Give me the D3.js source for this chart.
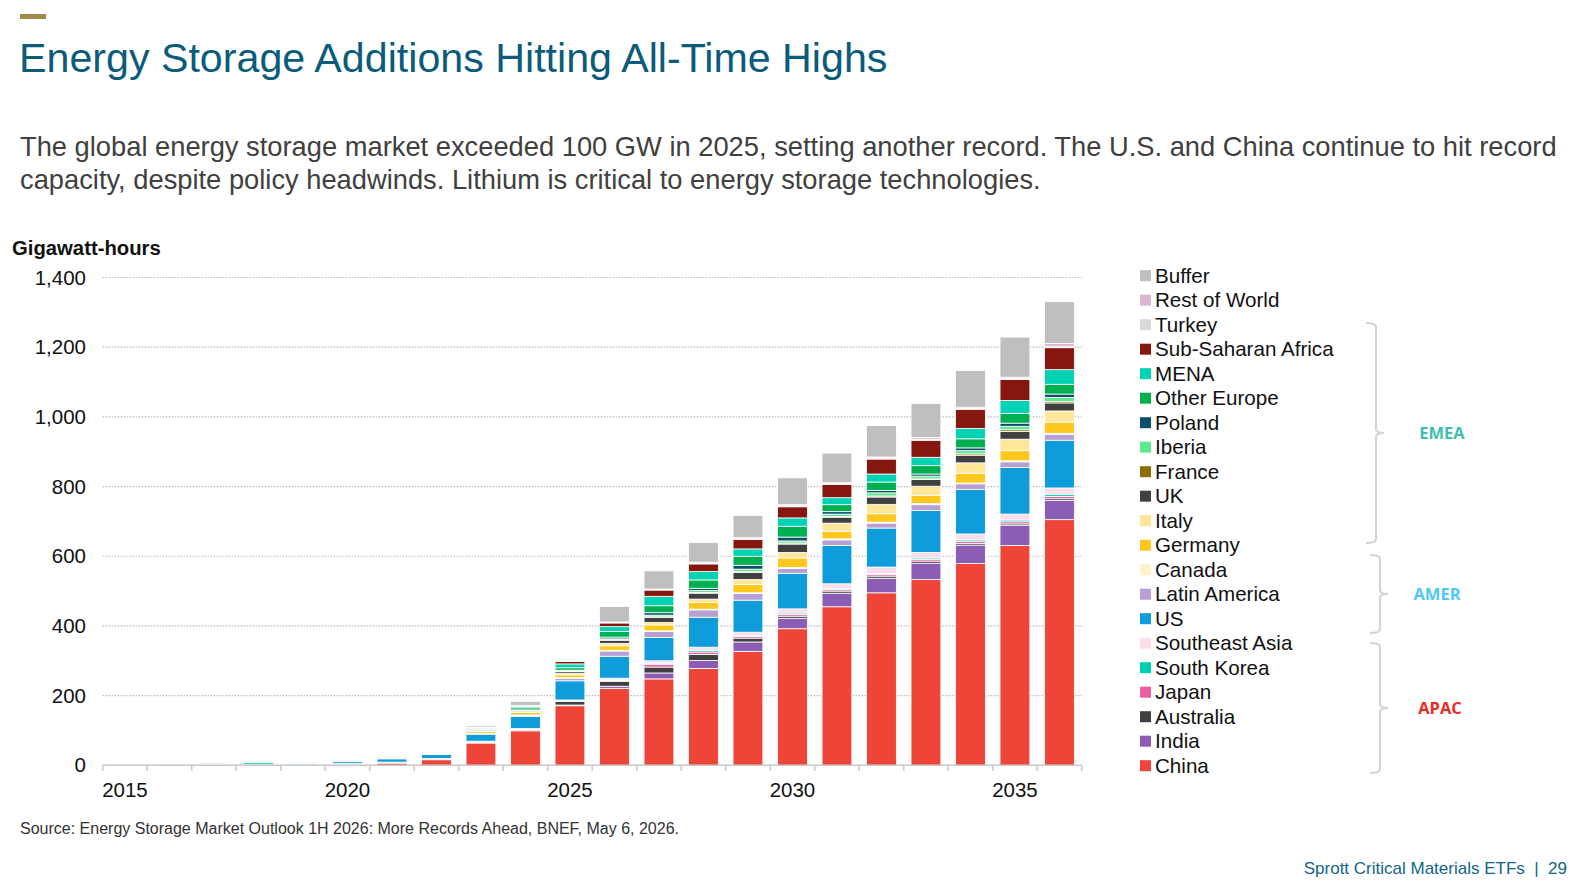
<!DOCTYPE html>
<html>
<head>
<meta charset="utf-8">
<script src="https://cdn.jsdelivr.net/npm/d3@7"></script>
<style>
  body { margin: 0; background: #fff; }
  svg { display: block; font-family: "Liberation Sans", Arial, sans-serif; }
</style>
</head>
<body>
<svg id="chart" width="1596" height="894"></svg>
<script>
// years on the x axis
const years = d3.range(2015, 2037)
const yearLabels = [2015, 2020, 2025, 2030, 2035]
const yTicks = [0, 200, 400, 600, 800, 1000, 1200, 1400]

// GWh per year, 2015 -> 2036
const china        = [0.3,0.4,0.5,1,1.2,2.5,6.5,16,64,99,171,221,248,278,327,392,455,495,533,579,631,705]
const india        = [0,0,0,0,0,0,0.3,0.5,0.8,1,2,6,17,23,27,30,39,42,47,53,58,55]
const australia    = [0,0.3,0.5,0.5,0.8,1,1,1.5,1.5,3,10,14,17,17,11,6,6,6,6,5,4,5]
const japan        = [0.8,0.5,0.3,0.5,0.4,0.5,0.5,0.7,1.5,1,2,2,8,7,5,5,4,5,5,6,6,7]
const southKorea   = [0.3,0.8,1,5.5,0.8,0.8,0.8,0.8,0.7,0.5,0.5,2,3,5,3,4,3,3,4,4,5,6]
const southeastAsia= [0,0,0,0,0,0,0,0.3,0.8,1,2,5,7,9,9,12,14,18,16,17,17,18]
const us           = [0.6,0.7,0.8,1.2,1.8,5.5,9.5,11.5,20,35,55,63,67,86,92,102,110,112,120,128,134,137]
const latinAmerica = [0,0,0,0,0,0,0.5,0.6,2,3,7,15,17,21,19,14,16,14,17,16,16,17]
const canada       = [0,0,0,0,0,0,0,0.2,0.8,1,2,2,2,2,2,3,3,3,3,2,3,3]
const germany      = [0.3,0.5,0.6,0.8,0.8,1,1.8,2.5,5,7,8,13,17,20,24,27,22,24,24,28,29,32]
const italy        = [0,0,0,0,0,0,0.4,1,3,3,4,7,7,9,14,16,23,27,26,30,33,32]
const uk           = [0.2,0.5,0.4,0.5,0.6,1,1.5,1.3,2.5,2.5,5,9,14,17,20,24,17,21,19,22,22,23]
const france       = [0,0,0,0,0,0,0,0,0.5,0.5,1,1,2,2,3,3,2,3,2,4,5,4]
const iberia       = [0,0,0,0,0,0,0,0.2,0.5,1,1.5,3,5,6,7,6,7,9,8,9,10,12]
const poland       = [0,0,0,0,0,0,0,0.1,0.4,0.5,2,5,7,6,11,11,7,7,6,8,9,9.5]
const otherEurope  = [0,0,0,0,0.3,0.5,0.8,1,2.5,6,7,16,20,24,26,31,20,24,24,26,28,28]
const mena         = [0,0,0,0,0.3,0,0.3,0.3,1.5,4,11,14,27,24,21,24,20,23,24,30,37,42]
const subSaharan   = [0,0,0,0,0,0,0,0.2,0.8,1.5,7,10.5,18,22,27,32,38,43,49,55,60,63]
const turkey       = [0,0,0,0,0,0,0,0,0.3,0.5,0.5,1,1,2,2,3,2,3,3,2,3,4]
const restOfWorld  = [1,0.4,0,0,0,0,0,0,0.3,0.5,0.5,2,2,3,3,3,3,3,5,4,4,8]
const buffer       = [0,0,0,0,0,0,0,0.5,4,12,2.5,44,52,56,64,77,85,90,97,105,115,120]

// stacking order, bottom first
const seriesNames = ["China","India","Australia","Japan","South Korea","Southeast Asia","US",
  "Latin America","Canada","Germany","Italy","UK","France","Iberia","Poland","Other Europe",
  "MENA","Sub-Saharan Africa","Turkey","Rest of World","Buffer"]
const seriesValues = [china,india,australia,japan,southKorea,southeastAsia,us,latinAmerica,
  canada,germany,italy,uk,france,iberia,poland,otherEurope,mena,subSaharan,turkey,restOfWorld,buffer]
const seriesColors = ["#ef4538","#8b5db4","#404040","#ea5fa1","#00d0b0","#fcdde9","#0e9cda",
  "#b7a0d6","#fff2cc","#ffc81e","#ffe699","#404040","#8c6d00","#5ee88f","#0b4f6c","#00b050",
  "#00d2b4","#86170e","#d9d9d9","#ddb6d3","#bfbfbf"]

const table = years.map((y, i) => {
  const row = {year: y}
  seriesNames.forEach((n, k) => row[n] = seriesValues[k][i])
  return row
})

const svg = d3.select("#chart")

// header
svg.append("rect").attr("x", 20).attr("y", 14).attr("width", 26).attr("height", 5).attr("fill", "#a08a45")
svg.append("text").attr("x", 19).attr("y", 72)
  .attr("font-size", 41.2).attr("fill", "#0b5b7b")
  .text("Energy Storage Additions Hitting All-Time Highs")
const sub = svg.append("text").attr("font-size", 27.3).attr("fill", "#404040")
sub.append("tspan").attr("x", 20).attr("y", 156)
  .text("The global energy storage market exceeded 100 GW in 2025, setting another record. The U.S. and China continue to hit record")
sub.append("tspan").attr("x", 20).attr("y", 189)
  .text("capacity, despite policy headwinds. Lithium is critical to energy storage technologies.")

const x = d3.scaleBand().domain(years).range([102.7, 1081.7]).paddingInner(0.33).paddingOuter(0.165)
const y = d3.scaleLinear().domain([0, 1400]).range([765.3, 277.5])

// gridlines
svg.append("g").selectAll("line")
  .data(yTicks.filter(d => d > 0))
  .enter().append("line")
  .attr("x1", 102.7).attr("x2", 1081.7)
  .attr("y1", d => y(d)).attr("y2", d => y(d))
  .attr("stroke", "#b8b8b8").attr("stroke-width", 1.2)
  .attr("stroke-dasharray", "1.5,1.5")

svg.append("g").selectAll("text")
  .data(yTicks)
  .enter().append("text")
  .attr("x", 86).attr("y", d => y(d) + 7)
  .attr("text-anchor", "end").attr("font-size", 20.5).attr("fill", "#111")
  .text(d => d3.format(",")(d))

svg.append("text").attr("x", 12).attr("y", 255)
  .attr("font-size", 20.3).attr("font-weight", "bold").attr("fill", "#111")
  .text("Gigawatt-hours")

// stacked bars
const stack = d3.stack().keys(seriesNames)(table)
svg.append("g").selectAll("g")
  .data(stack)
  .enter().append("g")
  .attr("fill", (d, i) => seriesColors[i])
  .selectAll("rect")
  .data(d => d)
  .enter().append("rect")
  .attr("x", d => x(d.data.year))
  .attr("width", x.bandwidth())
  .attr("y", d => y(d[1]))
  .attr("height", d => y(d[0]) - y(d[1]))
  .attr("stroke", "#fff").attr("stroke-width", 0.8)

// x axis
const xAxis = svg.append("g")
xAxis.append("line").attr("x1", 102.7).attr("x2", 1081.7)
  .attr("y1", 765.3).attr("y2", 765.3).attr("stroke", "#c8c8c8").attr("stroke-width", 1.5)
xAxis.selectAll(".tk")
  .data(years.concat([2037]))
  .enter().append("line")
  .attr("x1", (d, i) => 102.7 + i * x.step()).attr("x2", (d, i) => 102.7 + i * x.step())
  .attr("y1", 765.3).attr("y2", 771).attr("stroke", "#c8c8c8").attr("stroke-width", 1.5)
xAxis.selectAll("text")
  .data(yearLabels)
  .enter().append("text")
  .attr("x", d => x(d) + x.bandwidth() / 2).attr("y", 797)
  .attr("text-anchor", "middle").attr("font-size", 20.5).attr("fill", "#111")
  .text(d => d)

// legend (top = last stacked)
const legendRows = seriesNames.map((n, i) => ({name: n, color: seriesColors[i]})).reverse()
const legend = svg.append("g").selectAll("g")
  .data(legendRows)
  .enter().append("g")
  .attr("transform", (d, i) => `translate(1140,${275.7 + i * 24.5})`)
legend.append("rect").attr("x", 0).attr("y", -5.5).attr("width", 11).attr("height", 11)
  .attr("fill", d => d.color)
legend.append("text").attr("x", 15).attr("y", 7)
  .attr("font-size", 20.6).attr("fill", "#111").text(d => d.name)

// region braces
const braces = [
  {label: "EMEA", color: "#3cbfae", top: 323, bottom: 543, xv: 1376, lx: 1442},
  {label: "AMER", color: "#4ec9f5", top: 555, bottom: 633, xv: 1380, lx: 1437},
  {label: "APAC", color: "#ee2a24", top: 643, bottom: 773, xv: 1380, lx: 1440}
]
braces.forEach(b => {
  const mid = (b.top + b.bottom) / 2
  const r = 4
  const p = d3.path()
  p.moveTo(b.xv - 10, b.top)
  p.quadraticCurveTo(b.xv, b.top, b.xv, b.top + r)
  p.lineTo(b.xv, mid - r)
  p.quadraticCurveTo(b.xv, mid, b.xv + 8, mid)
  p.moveTo(b.xv + 8, mid)
  p.quadraticCurveTo(b.xv, mid, b.xv, mid + r)
  p.lineTo(b.xv, b.bottom - r)
  p.quadraticCurveTo(b.xv, b.bottom, b.xv - 10, b.bottom)
  svg.append("path").attr("d", p.toString()).attr("fill", "none")
    .attr("stroke", "#d4d4d4").attr("stroke-width", 2.2)
  svg.append("text").attr("x", b.lx).attr("y", mid + 6)
    .attr("text-anchor", "middle").attr("font-family", "'Open Sans', sans-serif")
    .attr("font-weight", "bold").attr("font-size", 16.5).attr("fill", b.color)
    .text(b.label)
})

// footer
svg.append("text").attr("x", 20).attr("y", 834)
  .attr("font-size", 16).attr("fill", "#333")
  .text("Source: Energy Storage Market Outlook 1H 2026: More Records Ahead, BNEF, May 6, 2026.")
svg.append("text").attr("x", 1567).attr("y", 874).attr("text-anchor", "end")
  .attr("font-size", 17).attr("fill", "#10658a")
  .attr("xml:space", "preserve")
  .text("Sprott Critical Materials ETFs  |  29")
</script>
</body>
</html>
